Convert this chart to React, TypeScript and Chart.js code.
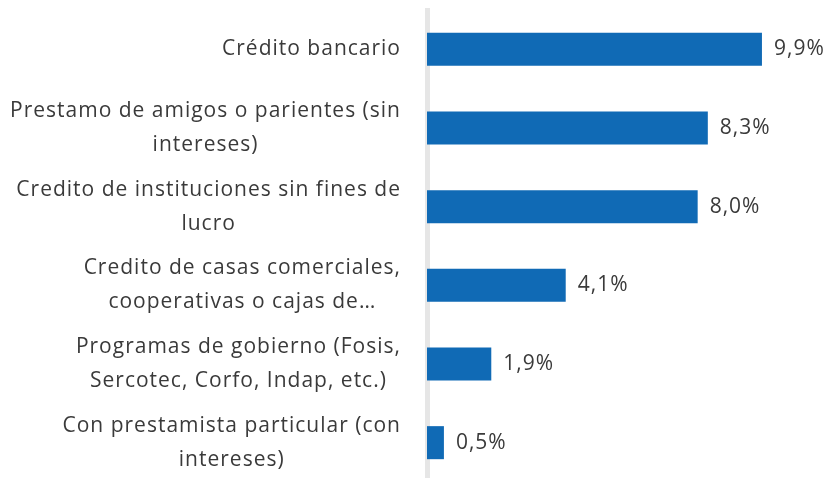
import React, { useEffect, useRef } from "react";
import { Chart, registerables } from "chart.js";

Chart.register(...registerables);

const categories: string[][] = [
  ["Crédito bancario"],
  ["Prestamo de amigos o parientes (sin", "intereses)"],
  ["Credito de instituciones sin fines de", "lucro"],
  ["Credito de casas comerciales,", "cooperativas o cajas de…"],
  ["Programas de gobierno (Fosis,", "Sercotec, Corfo, Indap, etc.)"],
  ["Con prestamista particular (con", "intereses)"],
];
const values: number[] = [9.9, 8.3, 8.0, 4.1, 1.9, 0.5];
const valueLabels: string[] = ["9,9%", "8,3%", "8,0%", "4,1%", "1,9%", "0,5%"];

const FONT = '21px "Open Sans"';
const TEXT = "#3a3a3a";

const labelPlugin = {
  id: "customLabels",
  afterDatasetsDraw(chart: any) {
    const ctx = chart.ctx;
    const yScale = chart.scales.y;
    const meta = chart.getDatasetMeta(0);
    ctx.save();
    ctx.font = FONT;
    (ctx as any).letterSpacing = "1px";
    ctx.fillStyle = TEXT;
    ctx.textBaseline = "middle";
    const right = yScale.right - 26;
    const lh = 34;
    categories.forEach((lines, i) => {
      const cy = yScale.getPixelForValue(i);
      const maxW = Math.max(...lines.map((l) => ctx.measureText(l).width));
      const cx = right - maxW / 2;
      ctx.textAlign = "center";
      lines.forEach((l, j) => {
        const y = cy + (j - (lines.length - 1) / 2) * lh;
        ctx.fillText(l, cx, y);
      });
      const bar = meta.data[i];
      ctx.textAlign = "left";
      ctx.fillText(valueLabels[i], bar.x + 12, cy);
    });
    ctx.restore();
  },
};

export default function App() {
  const ref = useRef<HTMLCanvasElement>(null);
  useEffect(() => {
    const chart = new Chart(ref.current!, {
      type: "bar",
      data: {
        labels: categories.map((c) => c.join(" ")),
        datasets: [
          {
            data: values,
            backgroundColor: "#106AB5",
            categoryPercentage: 1,
            barPercentage: 0.42,
          },
        ],
      },
      options: {
        indexAxis: "y",
        animation: false,
        responsive: false,
        layout: { padding: { top: 10, bottom: 0, left: 0, right: 0 } },
        plugins: { legend: { display: false }, tooltip: { enabled: false } },
        scales: {
          x: { display: false, min: 0, max: 12 },
          y: {
            ticks: { display: false },
            grid: { display: false },
            border: { display: true, color: "#e6e6e6", width: 5 },
            afterFit(scale: any) {
              scale.width = 427;
            },
          },
        },
      },
      plugins: [labelPlugin],
    });
    return () => chart.destroy();
  }, []);
  return (
    <div style={{ position: "fixed", left: 0, top: 0, width: 833, height: 482 }}>
      <canvas ref={ref} width={833} height={482} style={{ width: 833, height: 482 }} />
    </div>
  );
}
